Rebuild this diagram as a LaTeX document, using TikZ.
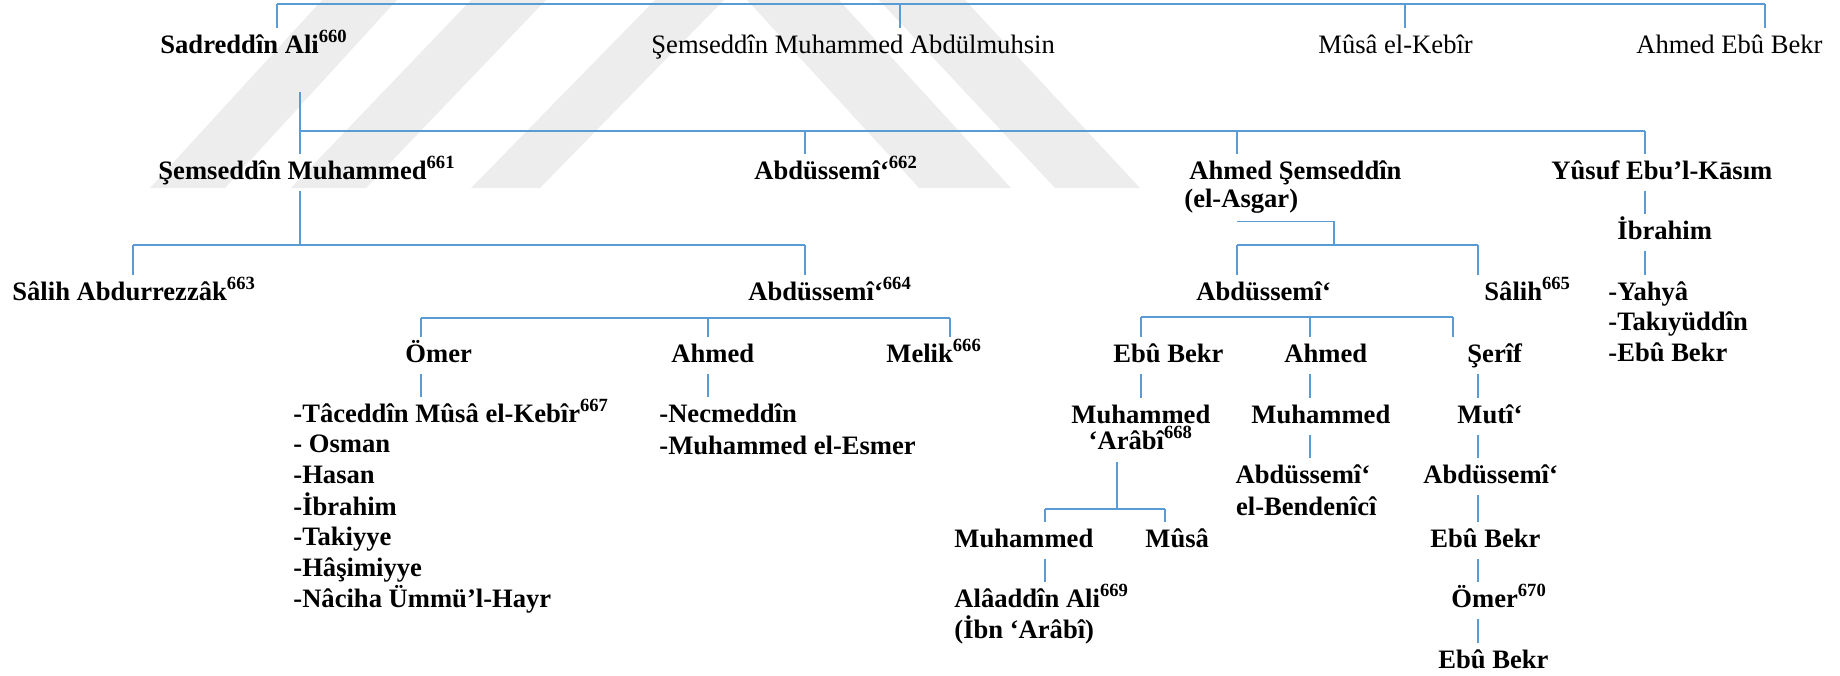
\documentclass[tikz,border=0pt]{standalone}
\usepackage{fontspec}
\setmainfont{Liberation Serif}

\definecolor{linkblue}{RGB}{91,155,213}
\newcommand{\namefont}{\fontsize{13.3}{15.3}\selectfont}
\newcommand{\dipnot}[1]{\textsuperscript{#1}}

\begin{document}
\begin{tikzpicture}[x=0.5pt, y=-0.5pt]
    \tikzstyle{member}=[inner sep=0pt, text height=12.5pt, text depth=6pt, anchor=base west, font=\namefont\bfseries]
    \tikzstyle{member light}=[member, font=\namefont\mdseries]
    \tikzstyle{link}=[draw=linkblue, line width=0.75pt]
    \tikzstyle{wm}=[fill=black!7]

    \useasboundingbox (0,0) rectangle (1840,675);

    % watermark
    \fill[wm] (150,188) -- (225,188) -- (397,0) -- (322,0) -- cycle;
    \fill[wm] (291,188) -- (366,188) -- (546,0) -- (471,0) -- cycle;
    \fill[wm] (471,188) -- (540,188) -- (724,0) -- (655,0) -- cycle;
    \fill[wm] (747,0) -- (839,0) -- (1011,188) -- (919,188) -- cycle;
    \fill[wm] (879,0) -- (965,0) -- (1140,188) -- (1055,188) -- cycle;

    \node[member] (sadr) at (160,53) {Sadreddîn Ali\dipnot{660}};
    \node[member light] (semsA) at (651,53) {Şemseddîn Muhammed Abdülmuhsin};
    \node[member light] (musaK) at (1318,53) {Mûsâ el-Kebîr};
    \node[member light] (ahmedEB) at (1636,53) {Ahmed Ebû Bekr};

    \node[member] (semsM) at (158,179) {Şemseddîn Muhammed\dipnot{661}};
    \node[member] (abd662) at (754,179) {Abdüssemî‘\dipnot{662}};
    \node[member, text depth=21pt] (ahmedS) at (1189,179) {\begin{tabular}[t]{@{}l@{}}Ahmed Şemseddîn\\[-1.3pt]\hspace{-2.5pt}(el-Asgar)\end{tabular}};
    \node[member] (yusuf) at (1551,179) {Yûsuf Ebu’l-Kāsım};
    \node[member] (ibrahimY) at (1617,239) {İbrahim};

    \node[member] (salihA) at (12,300) {Sâlih Abdurrezzâk\dipnot{663}};
    \node[member] (abd664) at (748,300) {Abdüssemî‘\dipnot{664}};
    \node[member] (abdA) at (1196,300) {Abdüssemî‘};
    \node[member] (salih665) at (1484,300) {Sâlih\dipnot{665}};
    \node[member] (yahya) at (1608,300) {\begin{tabular}[t]{@{}l@{}}-Yahyâ\\-Takıyüddîn\\-Ebû Bekr\end{tabular}};

    \node[member] (omer) at (405,362) {Ömer};
    \node[member] (ahmedO) at (671,362) {Ahmed};
    \node[member] (melik) at (886,362) {Melik\dipnot{666}};
    \node[member] (ebubekrA) at (1113,362) {Ebû Bekr};
    \node[member] (ahmedA) at (1284,362) {Ahmed};
    \node[member] (serif) at (1467,362) {Şerîf};

    \node[member] (omerList) at (293,422) {\begin{tabular}[t]{@{}l@{}}-Tâceddîn Mûsâ el-Kebîr\dipnot{667}\\- Osman\\-Hasan\\-İbrahim\\-Takiyye\\-Hâşimiyye\\-Nâciha Ümmü’l-Hayr\end{tabular}};
    \node[member] (ahmedList) at (659,422) {\begin{tabular}[t]{@{}l@{}}-Necmeddîn\\[0.7pt]-Muhammed el-Esmer\end{tabular}};
    \node[member, text depth=19.5pt] (muhArabi) at (1071,423) {\begin{tabular}[t]{@{}c@{}}Muhammed\\[-2.8pt]‘Arâbî\dipnot{668}\end{tabular}};
    \node[member] (muhA) at (1251,423) {Muhammed};
    \node[member] (muti) at (1457,423) {Mutî‘};

    \node[member] (bendenici) at (1229,483) {\begin{tabular}[t]{@{}c@{}}Abdüssemî‘\\[0.7pt]\ el-Bendenîcî\end{tabular}};
    \node[member] (abdM) at (1423,483) {Abdüssemî‘};

    \node[member] (muhB) at (954,547) {Muhammed};
    \node[member] (musa) at (1145,547) {Mûsâ};
    \node[member] (ebubekrM) at (1430,547) {Ebû Bekr};

    \node[member] (alaaddin) at (954,607) {\begin{tabular}[t]{@{}l@{}}Alâaddîn Ali\dipnot{669}\\(İbn ‘Arâbî)\end{tabular}};
    \node[member] (omer670) at (1451,607) {Ömer\dipnot{670}};
    \node[member] (ebubekrL) at (1438,668) {Ebû Bekr};

    % top row
    \foreach \x/\n in {277/sadr, 900/semsA, 1405/musaK, 1765/ahmedEB} {
        \coordinate (t-\n) at (\x,4);
        \draw[link] (t-\n) -- (t-\n |- \n.north);
    }
    \draw[link] (t-sadr) -- (t-ahmedEB);

    % Sadreddin Ali
    \foreach \x/\n in {300/semsM, 805/abd662, 1237/ahmedS, 1645/yusuf} {
        \coordinate (t-\n) at (\x,131);
        \draw[link] (t-\n) -- (t-\n |- \n.north);
    }
    \draw[link] (t-semsM) -- (t-yusuf);
    \draw[link, shorten <=13.5pt] (sadr.south -| t-semsM) -- (t-semsM);

    % Semseddin Muhammed
    \foreach \x/\n in {133/salihA, 805/abd664} {
        \coordinate (t-\n) at (\x,245);
        \draw[link] (t-\n) -- (t-\n |- \n.north);
    }
    \draw[link] (t-salihA) -- (t-abd664);
    \draw[link] (semsM.south -| t-semsM) -- (t-semsM |- t-salihA);

    % Abdussemi 664
    \foreach \x/\n in {421/omer, 708/ahmedO, 950/melik} {
        \coordinate (t-\n) at (\x,318);
        \draw[link] (t-\n) -- (t-\n |- \n.north);
    }
    \draw[link] (t-omer) -- (t-melik);
    \draw[link] (omer.south -| t-omer) -- (t-omer |- omerList.north);
    \draw[link] (ahmedO.south -| t-ahmedO) -- (t-ahmedO |- ahmedList.north);

    % Ahmed Semseddin
    \foreach \x/\n in {1237/abdA, 1478/salih665} {
        \coordinate (t-\n) at (\x,245);
        \draw[link] (t-\n) -- (t-\n |- \n.north);
    }
    \coordinate (j-ahmedS) at (1334,245);
    \draw[link] (t-abdA) -- (t-salih665);
    \draw[link] (ahmedS.south -| t-abdA) -| (j-ahmedS);

    % Yusuf
    \draw[link] (yusuf.south -| t-yusuf) -- (t-yusuf |- ibrahimY.north);
    \draw[link] (ibrahimY.south -| t-yusuf) -- (t-yusuf |- yahya.north);

    % Abdussemi (el-Asgar)
    \foreach \x/\n in {1141/ebubekrA, 1310/ahmedA, 1453/serif} {
        \coordinate (t-\n) at (\x,317);
        \draw[link] (t-\n) -- (t-\n |- \n.north);
    }
    \draw[link] (t-ebubekrA) -- (t-serif);
    \draw[link] (ebubekrA.south -| t-ebubekrA) -- (t-ebubekrA |- muhArabi.north);
    \draw[link] (ahmedA.south -| t-ahmedA) -- (t-ahmedA |- muhA.north);
    \draw[link] (muhA.south -| t-ahmedA) -- (t-ahmedA |- bendenici.north);

    \coordinate (col) at (1478,0);
    \foreach \a/\b in {serif/muti, muti/abdM, abdM/ebubekrM, ebubekrM/omer670, omer670/ebubekrL}
        \draw[link] (\a.south -| col) -- (col |- \b.north);

    % Muhammed Arabi
    \foreach \x/\n in {1045/muhB, 1165/musa} {
        \coordinate (t-\n) at (\x,509);
        \draw[link] (t-\n) -- (t-\n |- \n.north);
    }
    \coordinate (j-arabi) at (1117,509);
    \draw[link] (t-muhB) -- (t-musa);
    \draw[link] (muhArabi.south -| j-arabi) -- (j-arabi);
    \draw[link] (muhB.south -| t-muhB) -- (t-muhB |- alaaddin.north);
\end{tikzpicture}
\end{document}
